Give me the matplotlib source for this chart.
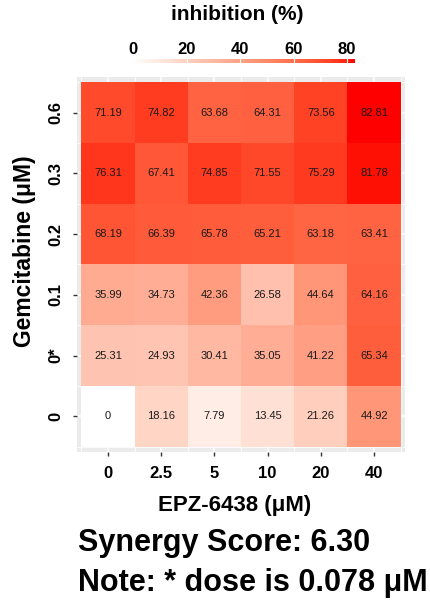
import numpy as np
import matplotlib
matplotlib.use("Agg")
import matplotlib.pyplot as plt
from matplotlib.colors import ListedColormap, Normalize

# ---- data ----
epz_labels = ["0", "2.5", "5", "10", "20", "40"]
gem_labels = ["0", "0*", "0.1", "0.2", "0.3", "0.6"]  # bottom to top
inhib_gem_0 = [0, 18.16, 7.79, 13.45, 21.26, 44.92]
inhib_gem_0star = [25.31, 24.93, 30.41, 35.05, 41.22, 65.34]
inhib_gem_01 = [35.99, 34.73, 42.36, 26.58, 44.64, 64.16]
inhib_gem_02 = [68.19, 66.39, 65.78, 65.21, 63.18, 63.41]
inhib_gem_03 = [76.31, 67.41, 74.85, 71.55, 75.29, 81.78]
inhib_gem_06 = [71.19, 74.82, 63.68, 64.31, 73.56, 82.81]
cbar_ticks = [0, 20, 40, 60, 80]
synergy_score = "6.30"
star_dose = "0.078"

Z = np.array([inhib_gem_0, inhib_gem_0star, inhib_gem_01,
              inhib_gem_02, inhib_gem_03, inhib_gem_06])

plt.rcParams['font.family'] = ['Liberation Sans', 'DejaVu Sans']

# ---- Lab-interpolated white->red colormap (like ggplot) ----
WP = np.array([0.95047, 1.0, 1.08883])
M = np.array([[0.4124, 0.3576, 0.1805],
              [0.2126, 0.7152, 0.0722],
              [0.0193, 0.1192, 0.9505]])


def srgb2lab(c):
    c = np.asarray(c, float)
    lin = np.where(c <= 0.04045, c / 12.92, ((c + 0.055) / 1.055) ** 2.4)
    xyz = M @ lin
    t = xyz / WP
    d = 6 / 29
    f = np.where(t > d ** 3, np.cbrt(t), t / (3 * d ** 2) + 4 / 29)
    return np.array([116 * f[1] - 16, 500 * (f[0] - f[1]), 200 * (f[1] - f[2])])


def lab2srgb(lab):
    L, a, b = lab
    fy_ = (L + 16) / 116
    fx_ = fy_ + a / 500
    fz_ = fy_ - b / 200
    d = 6 / 29
    f = np.array([fx_, fy_, fz_])
    t = np.where(f > d, f ** 3, 3 * d ** 2 * (f - 4 / 29))
    xyz = t * WP
    lin = np.linalg.solve(M, xyz)
    lin = np.clip(lin, 0, 1)
    c = np.where(lin <= 0.0031308, 12.92 * lin, 1.055 * lin ** (1 / 2.4) - 0.055)
    return np.clip(c, 0, 1)


lab_lo = srgb2lab([1, 1, 1])
lab_hi = srgb2lab([1, 0, 0])
cols = [lab2srgb(lab_lo + (lab_hi - lab_lo) * t) for t in np.linspace(0, 1, 256)]
cmap = ListedColormap(cols)
norm = Normalize(vmin=0, vmax=Z.max())

W, H = 430, 611
fig = plt.figure(figsize=(W / 100, H / 100), dpi=100)


def fx(px):
    return px / W


def fy(py):
    return 1 - py / H


# ---- main heatmap ----
ax = fig.add_axes([fx(77), fy(452), fx(405) - fx(77), fy(77) - fy(452)])
ax.set_facecolor('#EBEBEB')
n = len(epz_labels)
edges = np.arange(-0.5, n, 1.0)
ax.pcolormesh(edges, edges, Z, cmap=cmap, norm=norm, zorder=3)
for i in range(Z.shape[0]):
    for j in range(Z.shape[1]):
        v = Z[i, j]
        s = "0" if v == 0 else f"{v:.2f}"
        ax.text(j, i, s, ha='center', va='center', fontsize=8, color='#1a1a1a', zorder=4)

mx, my = 0.08, 0.09
ax.set_xlim(-0.5 - mx, n - 0.5 + mx)
ax.set_ylim(-0.5 - my, n - 0.5 + my)
for k in range(n):
    ax.axvline(k, color='white', lw=1.1, zorder=1)
    ax.axhline(k, color='white', lw=1.1, zorder=1)
for k in edges:
    ax.axvline(k, color='white', lw=0.55, zorder=1)
    ax.axhline(k, color='white', lw=0.55, zorder=1)
for sp in ax.spines.values():
    sp.set_visible(False)
ax.set_xticks(range(n))
ax.set_xticklabels(epz_labels, fontsize=12, fontweight='bold')
ax.set_yticks(range(n))
ax.set_yticklabels(gem_labels, fontsize=12, fontweight='bold', rotation=90, va='center')
ax.tick_params(axis='both', length=3, width=1, color='#333333', pad=7)
ax.set_xlabel('EPZ-6438 (μM)', fontsize=16, fontweight='bold')
ax.set_ylabel('Gemcitabine (μM)', fontsize=16.5, fontweight='bold')
ax.xaxis.set_label_coords((235 - 77) / 328, -(505 - 452) / 375)
ax.yaxis.set_label_coords(-(77 - 25) / 328, (452 - 251) / 375)
ax.xaxis.label.set_va('center')
ax.yaxis.label.set_va('center')

# ---- colorbar ----
vmax = Z.max()
x0 = 133
pxu = (347 - 133) / 80.0
cax = fig.add_axes([fx(x0), fy(63), (vmax * pxu) / W, 4 / H])
grad = np.linspace(0, vmax, 256).reshape(1, -1)
cax.imshow(grad, cmap=cmap, norm=norm, aspect='auto', extent=[0, vmax, 0, 1])
for t in cbar_ticks:
    cax.axvline(t, color='white', lw=0.8)
cax.set_xlim(0, vmax)
cax.axis('off')
for t in cbar_ticks:
    fig.text(fx(x0 + t * pxu), fy(49), str(t), ha='center', va='center',
             fontsize=12, fontweight='bold')
fig.text(fx(237), fy(15), 'inhibition (%)', ha='center', va='center',
         fontsize=15, fontweight='bold')

# ---- notes ----
fig.text(fx(78), fy(543), f'Synergy Score: {synergy_score}', ha='left', va='center',
         fontsize=22, fontweight='bold')
fig.text(fx(78), fy(583), f'Note: * dose is {star_dose} μM', ha='left', va='center',
         fontsize=22, fontweight='bold')

fig.savefig('out.png', dpi=100)
